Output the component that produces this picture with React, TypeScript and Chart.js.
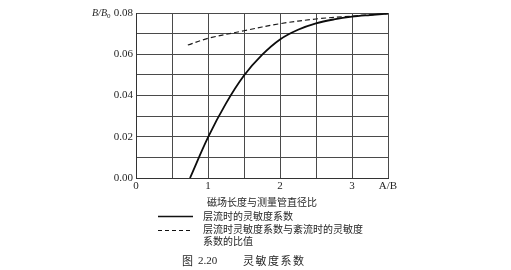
import React, { useEffect, useRef } from "react";
import { Chart, registerables } from "chart.js";

Chart.register(...registerables);

// Laminar-flow sensitivity coefficient (solid)
const laminarX = [0.75, 1.0, 1.25, 1.5, 1.75, 2.0, 2.25, 2.5, 2.75, 3.0, 3.25, 3.5];
const laminarY = [0.0, 0.0197, 0.0362, 0.0497, 0.0597, 0.0672, 0.0719, 0.075, 0.0769, 0.0782, 0.079, 0.0797];

// Ratio of laminar to turbulent sensitivity coefficient (dashed)
const ratioX = [0.72, 1.0, 1.5, 2.0, 2.5, 3.0, 3.5];
const ratioY = [0.0645, 0.0677, 0.0714, 0.0748, 0.0771, 0.0785, 0.0797];

// tick labels
const xTickValues = [0, 0.5, 1, 1.5, 2, 2.5, 3, 3.5];
const xTickLabels = ["0", "", "1", "", "2", "", "3", "A/B"];
const yTickValues = [0, 0.01, 0.02, 0.03, 0.04, 0.05, 0.06, 0.07, 0.08];
const yTickLabels = ["0.00", "", "0.02", "", "0.04", "", "0.06", "", "0.08"];

const xTitle = "磁场长度与测量管直径比";
const legendSolid = "层流时的灵敏度系数";
const legendDashed1 = "层流时灵敏度系数与紊流时的灵敏度";
const legendDashed2 = "系数的比值";
const captionFig = "图";
const captionNum = "2.20";
const captionText = "灵敏度系数";

const CJK = "'Noto Sans CJK SC', sans-serif";
const SERIF = "'Liberation Serif', 'DejaVu Serif', serif";
const TEXT = "#262626";

const textPlugin = {
  id: "textPlugin",
  afterDraw(chart: any) {
    const ctx = chart.ctx as CanvasRenderingContext2D;
    ctx.save();
    ctx.fillStyle = TEXT;
    ctx.textBaseline = "middle";

    // y axis name B/B0
    ctx.font = `italic 10px ${SERIF}`;
    ctx.textAlign = "left";
    ctx.fillText("B/B", 92, 13);
    const w = ctx.measureText("B/B").width;
    ctx.font = `7px ${SERIF}`;
    ctx.fillText("0", 92 + w, 16);

    // x axis title
    ctx.font = `10px ${CJK}`;
    ctx.textAlign = "center";
    ctx.fillText(xTitle, 262, 202);

    // legend
    ctx.textAlign = "left";
    ctx.strokeStyle = "#111";
    ctx.lineWidth = 1.6;
    ctx.beginPath();
    ctx.moveTo(158, 216.5);
    ctx.lineTo(193, 216.5);
    ctx.stroke();
    ctx.fillText(legendSolid, 203, 216);

    ctx.lineWidth = 1;
    ctx.setLineDash([4, 3]);
    ctx.beginPath();
    ctx.moveTo(158, 230.5);
    ctx.lineTo(193, 230.5);
    ctx.stroke();
    ctx.setLineDash([]);
    ctx.fillText(legendDashed1, 203, 229);
    ctx.fillText(legendDashed2, 203, 241);

    // caption
    ctx.font = `11px ${CJK}`;
    ctx.fillText(captionFig, 182, 261);
    ctx.font = `11px ${SERIF}`;
    ctx.fillText(captionNum, 198, 261);
    ctx.font = `11px ${CJK}`;
    let x = 243;
    for (const ch of captionText) {
      ctx.fillText(ch, x, 261);
      x += 12.5;
    }
    ctx.restore();
  },
};

export default function App() {
  const ref = useRef<HTMLCanvasElement | null>(null);

  useEffect(() => {
    if (!ref.current) return;
    const chart = new Chart(ref.current, {
      type: "line",
      data: {
        datasets: [
          {
            label: legendSolid,
            data: laminarX.map((x, i) => ({ x, y: laminarY[i] })),
            borderColor: "#0d0d0d",
            borderWidth: 1.8,
            pointRadius: 0,
            fill: false,
            tension: 0.35,
          },
          {
            label: legendDashed1 + legendDashed2,
            data: ratioX.map((x, i) => ({ x, y: ratioY[i] })),
            borderColor: "#1a1a1a",
            borderWidth: 1.2,
            borderDash: [5, 3],
            pointRadius: 0,
            fill: false,
            tension: 0.35,
          },
        ],
      },
      options: {
        responsive: false,
        animation: false,
        devicePixelRatio: 1,
        layout: { padding: { left: 0, right: 123, top: 13, bottom: 0 } },
        plugins: {
          legend: { display: false },
          tooltip: { enabled: false },
          title: { display: false },
        },
        scales: {
          x: {
            type: "linear",
            min: 0,
            max: 3.5,
            afterBuildTicks: (s: any) => {
              s.ticks = xTickValues.map((v) => ({ value: v }));
            },
            afterFit: (s: any) => {
              s.height = 92;
            },
            ticks: {
              autoSkip: false,
              maxRotation: 0,
              padding: 2,
              color: TEXT,
              font: { family: SERIF, size: 11 },
              callback: (v: any) => {
                const i = xTickValues.findIndex((t) => Math.abs(t - v) < 1e-6);
                return i >= 0 ? xTickLabels[i] : "";
              },
            },
            grid: { color: "#4a4a4a", lineWidth: 1, drawTicks: false },
            border: { color: "#333", width: 1 },
          },
          y: {
            type: "linear",
            min: 0,
            max: 0.08,
            afterBuildTicks: (s: any) => {
              s.ticks = yTickValues.map((v) => ({ value: v }));
            },
            afterFit: (s: any) => {
              s.width = 136;
            },
            ticks: {
              autoSkip: false,
              padding: 3,
              color: TEXT,
              font: { family: SERIF, size: 11 },
              callback: (v: any) => {
                const i = yTickValues.findIndex((t) => Math.abs(t - v) < 1e-7);
                return i >= 0 ? yTickLabels[i] : "";
              },
            },
            grid: { color: "#4a4a4a", lineWidth: 1, drawTicks: false },
            border: { color: "#333", width: 1 },
          },
        },
      },
      plugins: [textPlugin],
    });
    return () => chart.destroy();
  }, []);

  return (
    <div style={{ position: "fixed", left: 0, top: 0, width: 511, height: 270, background: "#fff" }}>
      <canvas ref={ref} width={511} height={270} style={{ width: 511, height: 270, display: "block" }} />
    </div>
  );
}
